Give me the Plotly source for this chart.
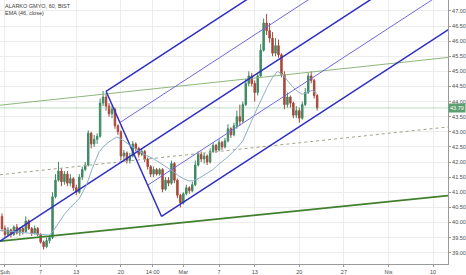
import numpy as np
import plotly.graph_objects as go

# ---- price bars (hourly-ish, 3 bars per trading day; x unit = trading day, 0 = 1 Şubat) ----
bar_open = [40.2,39.8,39.6,39.75,39.6,39.85,39.65,39.8,39.7,40.05,
            39.8,39.65,39.8,39.6,39.35,39.2,39.4,39.5,40.85,41.4,
            41.7,41.35,41.6,41.3,41.45,41.15,41.0,41.5,41.75,41.9,
            42.95,42.6,42.75,42.85,43.95,44.15,43.85,43.6,43.75,43.2,
            43.0,42.2,42.3,42.05,42.2,42.6,42.45,42.25,42.35,42.1,
            41.85,41.6,41.75,41.6,41.75,41.1,41.4,41.3,41.95,41.4,
            40.9,40.65,40.95,41.15,41.05,41.25,41.9,42.25,42.1,42.2,
            42.0,42.35,42.55,42.4,42.65,42.5,42.7,43.1,42.9,43.2,
            43.5,43.35,43.9,44.6,44.85,44.6,44.3,44.85,45.7,46.6,
            46.35,46.1,45.6,45.85,45.55,44.9,43.9,44.15,43.95,43.55,
            43.7,43.45,43.9,44.3,44.85,44.7,44.2]
bar_close = [39.8,39.6,39.75,39.6,39.85,39.65,39.8,39.7,40.05,39.8,
             39.65,39.8,39.6,39.35,39.2,39.4,39.5,40.85,41.4,41.7,
             41.35,41.6,41.3,41.45,41.15,41.0,41.5,41.75,41.9,42.95,
             42.6,42.75,42.85,43.95,44.15,43.85,43.6,43.75,43.2,43.0,
             42.2,42.3,42.05,42.2,42.6,42.45,42.25,42.35,42.1,41.85,
             41.6,41.75,41.6,41.75,41.1,41.4,41.3,41.95,41.4,40.9,
             40.65,40.95,41.15,41.05,41.25,41.9,42.25,42.1,42.2,42.0,
             42.35,42.55,42.4,42.65,42.5,42.7,43.1,42.9,43.2,43.5,
             43.35,43.9,44.6,44.85,44.6,44.3,44.85,45.7,46.6,46.35,
             46.1,45.6,45.85,45.55,44.9,43.9,44.15,43.95,43.55,43.7,
             43.45,43.9,44.3,44.85,44.7,44.2,43.79]
bar_high = [40.3,39.9,39.85,39.8,39.9,39.95,39.85,39.9,40.2,40.1,
            39.85,39.9,39.85,39.65,39.4,39.5,39.6,41.0,41.6,42.0,
            41.8,41.7,41.7,41.6,41.5,41.25,41.6,41.85,42.0,43.05,
            43.0,42.9,42.95,44.1,44.35,44.25,43.95,43.85,43.8,43.25,
            43.05,42.4,42.35,42.3,42.7,42.65,42.5,42.45,42.4,42.15,
            41.9,41.85,41.8,41.8,41.8,41.5,41.5,42.05,42.0,41.45,
            40.95,41.0,41.25,41.2,41.35,42.05,42.35,42.35,42.3,42.25,
            42.45,42.65,42.6,42.75,42.7,42.8,43.25,43.15,43.3,43.7,
            43.9,44.0,44.75,45.0,44.95,44.7,44.95,45.9,46.75,46.9,
            46.6,46.3,46.1,46.05,45.6,45.0,44.3,44.2,44.0,43.85,
            43.8,44.0,44.45,44.95,45.0,44.75,44.25]
bar_low = [39.7,39.5,39.55,39.5,39.55,39.6,39.55,39.6,39.65,39.75,
           39.55,39.6,39.55,39.3,39.1,39.15,39.3,39.45,40.8,41.35,
           41.2,41.25,41.2,41.2,41.05,40.9,40.95,41.4,41.7,41.85,
           42.45,42.5,42.6,42.8,43.85,43.7,43.5,43.45,43.1,42.9,
           42.05,42.0,41.95,41.95,42.15,42.35,42.15,42.2,42.0,41.75,
           41.5,41.5,41.55,41.55,41.0,41.05,41.2,41.25,41.3,40.8,
           40.5,40.6,40.9,40.95,41.0,41.2,41.85,42.0,41.95,41.9,
           41.95,42.3,42.3,42.35,42.4,42.45,42.65,42.8,42.85,43.1,
           43.2,43.3,43.85,44.5,44.5,44.0,44.2,44.8,45.65,46.2,
           45.95,45.5,45.5,45.45,44.8,43.75,43.8,43.8,43.45,43.45,
           43.3,43.4,43.85,44.25,44.6,44.1,43.7]
bar_t = np.arange(len(bar_close)) / 3.0 - 1.0 / 3.0

# ---- EMA (46, close) ----
ema_t = [-0.56,0.56,1.67,2.78,3.89,5.0,5.56,6.11,6.67,7.22,7.78,8.33,9.11,9.78,10.56,
         11.11,11.67,12.56,13.33,14.11,15.0,15.89,16.67,17.22,17.78,18.33,18.89,19.44,
         20.0,20.56,21.11,21.67,22.22,22.78,23.33,23.89,24.44,25.0,25.56,26.11,26.67,
         27.22,27.78,28.33,28.89,29.44,30.0,30.56,31.11,31.67,32.22,32.78,33.33,33.89,
         34.44,35.0]
ema_v = [39.74,39.71,39.68,39.64,39.61,39.58,39.78,40.04,40.27,40.46,40.63,40.79,41.22,
         41.78,42.34,42.53,42.67,42.83,42.70,42.53,42.37,42.21,42.11,42.01,41.91,41.81,
         41.68,41.55,41.45,41.38,41.38,41.45,41.55,41.65,41.75,41.91,42.04,42.17,42.34,
         42.50,42.70,43.09,43.45,43.81,44.18,44.50,44.80,45.00,44.90,44.70,44.50,44.34,
         44.24,44.31,44.37,44.27]

# ---- drawings ----
channel_t = [-0.56, 49.67]
channel_top = [43.88, 45.46]
channel_mid = [41.58, 43.16]
channel_bot = [39.38, 40.89]

fork_t = [-1.0, 11.33, 17.56]      # Andrews pitchfork pivots
fork_p = [39.30, 44.34, 40.20]

last_price = 43.79

x_tickvals = [0, 4, 8, 13, 16.56, 20, 24, 28, 33, 38, 43, 48]
x_ticktext = ["Şub", "7", "13", "20", "14:00", "Mar", "7", "13", "20", "27", "Nis", "10"]
y_tickvals = [39.0 + 0.5 * i for i in range(17)]

FONT = "Liberation Sans, Arial, sans-serif"
THICK = "#2e2ec4"
THIN = "#7067e0"

fig = go.Figure()

# channel
fig.add_trace(go.Scatter(x=channel_t, y=channel_top, mode="lines",
                         line=dict(color="#8db77c", width=1), hoverinfo="skip"))
fig.add_trace(go.Scatter(x=channel_t, y=channel_mid, mode="lines",
                         line=dict(color="#a3a38a", width=1, dash="3px,3px"), hoverinfo="skip"))
fig.add_trace(go.Scatter(x=channel_t, y=channel_bot, mode="lines",
                         line=dict(color="#3f7f2e", width=1.7), hoverinfo="skip"))

# last price line
fig.add_trace(go.Scatter(x=[-5, 60], y=[last_price, last_price], mode="lines",
                         line=dict(color="rgba(110,180,120,0.45)", width=1), hoverinfo="skip"))

# pitchfork
t1, t2, t3 = fork_t
p1, p2, p3 = fork_p
tm, pm = (t2 + t3) / 2, (p2 + p3) / 2
slope = (pm - p1) / (tm - t1)
t_end = 60.0


def ray(t0, p0, lw, col):
    fig.add_trace(go.Scatter(x=[t0, t_end], y=[p0, p0 + slope * (t_end - t0)], mode="lines",
                             line=dict(color=col, width=lw), hoverinfo="skip"))


ray(t1, p1, 1.5, THICK)                      # median
ray(t2, p2, 1.5, THICK)                      # upper tine
ray(t3, p3, 1.5, THICK)                      # lower tine
ray((t2 + tm) / 2, (p2 + pm) / 2, 1, THIN)   # inner upper
ray((t3 + tm) / 2, (p3 + pm) / 2, 1, THIN)   # inner lower
fig.add_trace(go.Scatter(x=[t2, t3], y=[p2, p3], mode="lines",
                         line=dict(color=THICK, width=1.5), hoverinfo="skip"))

# EMA
fig.add_trace(go.Scatter(x=ema_t, y=ema_v, mode="lines",
                         line=dict(color="#8eaec8", width=1), hoverinfo="skip"))

# candles
fig.add_trace(go.Candlestick(
    x=bar_t, open=bar_open, high=bar_high, low=bar_low, close=bar_close,
    increasing=dict(line=dict(color="#3f8a64", width=1), fillcolor="#3f8a64"),
    decreasing=dict(line=dict(color="#a8473b", width=1), fillcolor="#a8473b"),
    whiskerwidth=0, hoverinfo="skip"))

fig.update_layout(
    width=466, height=275,
    margin=dict(l=0, r=14, t=0, b=9),
    paper_bgcolor="white", plot_bgcolor="white",
    showlegend=False,
    font=dict(family=FONT, size=6, color="#4a4a4a"),
    xaxis=dict(range=[-0.556, 49.67], tickvals=x_tickvals, ticktext=x_ticktext,
               showgrid=True, gridcolor="#ececec", gridwidth=1, zeroline=False,
               showline=True, linecolor="#9a9a9a", linewidth=1,
               ticks="outside", ticklen=2, tickcolor="#9a9a9a",
               tickfont=dict(size=5.5, color="#4a4a4a"),
               rangeslider=dict(visible=False), fixedrange=True),
    yaxis=dict(range=[38.626, 47.361], side="right", tickvals=y_tickvals,
               tickformat=".2f", showgrid=True, gridcolor="#ececec", gridwidth=1,
               zeroline=False, showline=True, linecolor="#9a9a9a", linewidth=1,
               ticks="outside", ticklen=2, tickcolor="#9a9a9a",
               tickfont=dict(size=5.5, color="#4a4a4a"), fixedrange=True),
)

fig.add_annotation(xref="paper", yref="paper", x=0.006, y=0.995, xanchor="left", yanchor="top",
                   text="ALARKO GMYO, 60, BIST<br>EMA (46, close)", showarrow=False, align="left",
                   font=dict(size=5.5, color="#3a3a3a", family=FONT))
fig.add_annotation(xref="paper", yref="y", x=1.0, y=last_price, xanchor="left", yanchor="middle",
                   text="43.79", showarrow=False, bgcolor="#5e9f70", borderpad=1,
                   font=dict(size=5.5, color="white", family=FONT))

fig.write_html("out.html")
